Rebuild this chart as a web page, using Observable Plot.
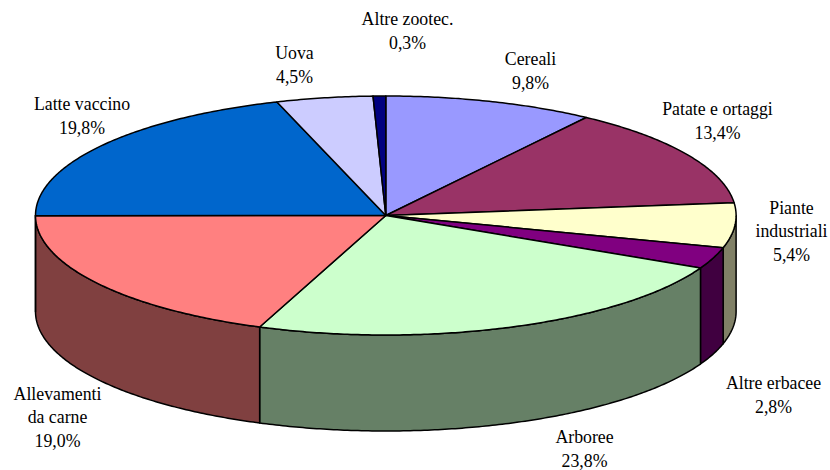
<!DOCTYPE html>
<html>
<head>
<meta charset="utf-8">
<style>html,body{margin:0;padding:0;background:#fff}svg{display:block}</style>
<script src="https://cdn.jsdelivr.net/npm/d3@7"></script>
<script src="https://cdn.jsdelivr.net/npm/@observablehq/plot@0.6"></script>
</head>
<body>
<div id="chart"></div>
<script>
const categories = ["Cereali","Patate e ortaggi","Piante\nindustriali","Altre erbacee","Arboree","Allevamenti\nda carne","Latte vaccino","Uova","Altre zootec."];
const labels = ["9,8%","13,4%","5,4%","2,8%","23,8%","19,0%","19,8%","4,5%","0,3%"];
const shares = [9.7,13.6,6.05,2.9,23.63,19.12,20.0,4.45,0.58];
const topColors = ["#9999FF","#993366","#FFFFCC","#800080","#CCFFCC","#FF8080","#0066CC","#CCCCFF","#000080"];
const sideColors = ["#4D4D80","#4D1A33","#808066","#400040","#668066","#804040","#003366","#666680","#000040"];

// Geometry of the tilted pie
const W = 830, H = 470, cx = 385.3, cy = 215, rx = 350.3, ry = 119.5, depth = 96;
const labelPos = [[530,88],[717,138],[791,260],[773,412],[584,466],[57,446],[81.5,133],[294,82],[407,48]];

const total = d3.sum(shares);
const px = a => cx + rx * Math.sin(a), py = a => cy - ry * Math.cos(a);
let acc = 0;
const slices = shares.map((s, i) => {
  const a0 = acc / total * 2 * Math.PI; acc += s;
  return {i, a0, a1: acc / total * 2 * Math.PI};
});
const arc = (a0, a1) => {
  const n = Math.max(2, Math.ceil((a1 - a0) / 0.01));
  return d3.range(n + 1).map(k => a0 + (a1 - a0) * k / n);
};
const topPts = slices.flatMap(s => [
  {k: s.i, x: cx, y: cy},
  ...arc(s.a0, s.a1).map(a => ({k: s.i, x: px(a), y: py(a)})),
  {k: s.i, x: cx, y: cy}
]);
const sidePts = slices.flatMap(s => {
  const a0 = Math.max(s.a0, Math.PI / 2), a1 = Math.min(s.a1, 3 * Math.PI / 2);
  if (a1 <= a0) return [];
  const as = arc(a0, a1);
  return [
    ...as.map(a => ({k: s.i, x: px(a), y: py(a)})),
    ...as.slice().reverse().map(a => ({k: s.i, x: px(a), y: py(a) + depth})),
    {k: s.i, x: px(a0), y: py(a0)}
  ];
});
const textRows = categories.map((c, i) => ({text: c + "\n" + labels[i], x: labelPos[i][0], y: labelPos[i][1]}));

const chart = Plot.plot({
  width: W, height: H, margin: 0,
  style: {background: "#fff", overflow: "visible"},
  x: {domain: [0, W], range: [0, W], axis: null},
  y: {domain: [0, H], range: [0, H], axis: null},
  marks: [
    Plot.line(sidePts, {x: "x", y: "y", z: "k", fill: d => sideColors[d.k], stroke: "#000", strokeWidth: 1.5, curve: "linear", strokeLinejoin: "round"}),
    Plot.line(topPts, {x: "x", y: "y", z: "k", fill: d => topColors[d.k], stroke: "#000", strokeWidth: 1.5, curve: "linear", strokeLinejoin: "round"}),
    Plot.text(textRows, {x: "x", y: "y", text: "text", fontFamily: "Liberation Serif", fontSize: 17.8, fill: "#000", textAnchor: "middle", lineHeight: 1.31, lineAnchor: "bottom"})
  ]
});
document.getElementById("chart").append(chart);
</script>
</body>
</html>
